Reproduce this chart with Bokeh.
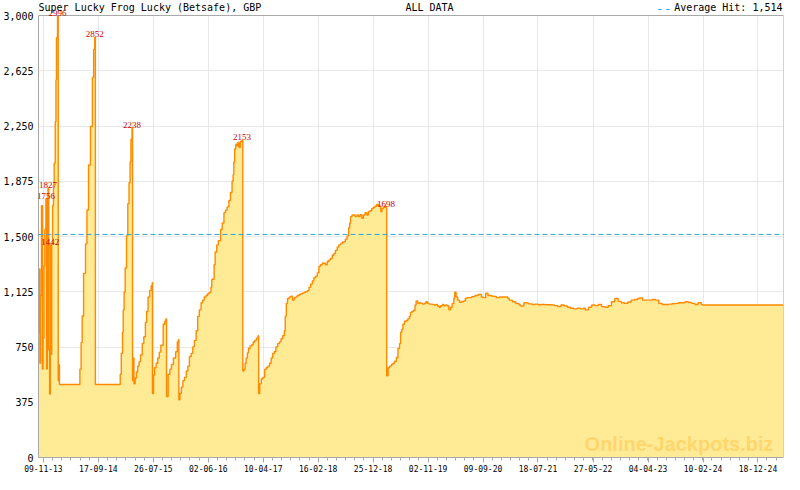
import pandas as pd
from bokeh.plotting import figure
from bokeh.models import (ColumnDataSource, Range1d, FixedTicker, DatetimeTickFormatter,
                          NumeralTickFormatter, Span, Label, LabelSet)
from bokeh.embed import file_html
from bokeh.resources import INLINE

# jackpot value (GBP), step data
dates = [
    "2013-10-12", "2013-10-16", "2013-10-20", "2013-10-23", "2013-10-29", "2013-11-03", "2013-11-07",
    "2013-11-12", "2013-11-17", "2013-11-23", "2013-11-27", "2013-12-01", "2013-12-05", "2013-12-09",
    "2013-12-14", "2013-12-18", "2013-12-22", "2013-12-26", "2013-12-31",
    "2014-01-05", "2014-01-09", "2014-01-15", "2014-01-19", "2014-01-22", "2014-01-28", "2014-02-01",
    "2014-02-04", "2014-02-08", "2014-06-04", "2014-06-11", "2014-06-17", "2014-06-25", "2014-07-06",
    "2014-07-14", "2014-07-23", "2014-08-03", "2014-08-14", "2014-08-21", "2014-08-27", "2014-08-31",
    "2015-01-19", "2015-01-25", "2015-02-01", "2015-02-05", "2015-02-10", "2015-02-16", "2015-02-24",
    "2015-03-03", "2015-03-10", "2015-03-16", "2015-03-21", "2015-03-27", "2015-03-30", "2015-04-02",
    "2015-04-07", "2015-04-14", "2015-04-21", "2015-04-28", "2015-05-06", "2015-05-14", "2015-05-24",
    "2015-06-02", "2015-06-11", "2015-06-18", "2015-06-26", "2015-07-05", "2015-07-14", "2015-07-20",
    "2015-07-21", "2015-07-27", "2015-08-02", "2015-08-11", "2015-08-20", "2015-08-29", "2015-09-07",
    "2015-09-20", "2015-09-29", "2015-10-05", "2015-10-09", "2015-10-18", "2015-10-28", "2015-11-06",
    "2015-11-17", "2015-11-30", "2015-12-09", "2015-12-15", "2015-12-18", "2015-12-24",
    "2016-01-01", "2016-01-10", "2016-01-19", "2016-01-29", "2016-02-07", "2016-02-16", "2016-02-26",
    "2016-03-06", "2016-03-15", "2016-03-25", "2016-04-03", "2016-04-12", "2016-04-22", "2016-05-01",
    "2016-05-10", "2016-05-20", "2016-05-29", "2016-06-07", "2016-06-17", "2016-06-22", "2016-07-05",
    "2016-07-11", "2016-07-20", "2016-07-29", "2016-08-11", "2016-08-20", "2016-08-30", "2016-09-08",
    "2016-09-17", "2016-09-27", "2016-10-06", "2016-10-15", "2016-10-21", "2016-10-25", "2016-10-30",
    "2016-11-05", "2016-11-12", "2016-11-17", "2016-11-23", "2016-12-01", "2016-12-10", "2016-12-15",
    "2016-12-21", "2016-12-28",
    "2017-01-03", "2017-01-10", "2017-01-16", "2017-01-25", "2017-02-03", "2017-02-12", "2017-02-21",
    "2017-03-02", "2017-03-12", "2017-03-15", "2017-03-21", "2017-03-30", "2017-04-08", "2017-04-18",
    "2017-04-27", "2017-05-06", "2017-05-16", "2017-05-25", "2017-06-03", "2017-06-13", "2017-06-21",
    "2017-07-01", "2017-07-11", "2017-07-20", "2017-07-29", "2017-08-08", "2017-08-13", "2017-08-19",
    "2017-08-26", "2017-09-05", "2017-09-14", "2017-09-23", "2017-10-03", "2017-10-12", "2017-10-21",
    "2017-10-31", "2017-11-09", "2017-11-18", "2017-11-28", "2017-12-07", "2017-12-17", "2017-12-26",
    "2018-01-04", "2018-01-14", "2018-01-23", "2018-02-01", "2018-02-11", "2018-02-20", "2018-03-01",
    "2018-03-11", "2018-03-20", "2018-03-29", "2018-04-08", "2018-04-18", "2018-04-27", "2018-05-07",
    "2018-05-16", "2018-05-25", "2018-06-04", "2018-06-13", "2018-06-22", "2018-07-02", "2018-07-11",
    "2018-07-20", "2018-07-30", "2018-08-08", "2018-08-14", "2018-08-19", "2018-08-27", "2018-09-05",
    "2018-09-14", "2018-09-24", "2018-10-03", "2018-10-12", "2018-10-22", "2018-10-31", "2018-11-09",
    "2018-11-19", "2018-11-28", "2018-12-07", "2018-12-17", "2018-12-26",
    "2019-01-04", "2019-01-14", "2019-01-23", "2019-02-01", "2019-02-07", "2019-02-13", "2019-02-20",
    "2019-03-01", "2019-03-08", "2019-03-12", "2019-03-20", "2019-03-29", "2019-04-08", "2019-04-17",
    "2019-04-26", "2019-05-06", "2019-05-15", "2019-05-24", "2019-05-30", "2019-06-06", "2019-06-12",
    "2019-06-21", "2019-07-01", "2019-07-10", "2019-07-19", "2019-07-25", "2019-08-02", "2019-08-11",
    "2019-08-20", "2019-08-26", "2019-09-04", "2019-09-13", "2019-09-23", "2019-10-02", "2019-10-11",
    "2019-10-21", "2019-10-30", "2019-11-08", "2019-11-27", "2019-12-06", "2019-12-16", "2019-12-25",
    "2020-01-03", "2020-01-13", "2020-01-22", "2020-01-31", "2020-02-10", "2020-02-19", "2020-02-28",
    "2020-03-09", "2020-03-18", "2020-03-27", "2020-04-01", "2020-04-09", "2020-04-18", "2020-04-29",
    "2020-05-11", "2020-05-21", "2020-05-31", "2020-06-09", "2020-06-28", "2020-07-07", "2020-07-25",
    "2020-08-12", "2020-08-31", "2020-09-09", "2020-09-24", "2020-10-07", "2020-10-26", "2020-11-04",
    "2020-11-23", "2020-12-11", "2020-12-30",
    "2021-01-18", "2021-01-27", "2021-02-05", "2021-02-23", "2021-03-14", "2021-04-01", "2021-04-11",
    "2021-04-29", "2021-05-17", "2021-05-26", "2021-06-14", "2021-07-02", "2021-07-20", "2021-08-07",
    "2021-08-26", "2021-09-13", "2021-10-01", "2021-10-20", "2021-11-07", "2021-11-25", "2021-12-14",
    "2022-01-01", "2022-01-19", "2022-02-07", "2022-02-25", "2022-03-15", "2022-04-03", "2022-04-12",
    "2022-05-01", "2022-05-19", "2022-06-07", "2022-06-26", "2022-07-14", "2022-08-02", "2022-08-21",
    "2022-09-08", "2022-09-27", "2022-10-16", "2022-11-03", "2022-11-21", "2022-12-10", "2022-12-29",
    "2023-01-16", "2023-02-04", "2023-02-13", "2023-03-04", "2023-03-22", "2023-04-10", "2023-04-29",
    "2023-05-17", "2023-06-04", "2023-06-23", "2023-07-12", "2023-07-30", "2023-08-18", "2023-09-05",
    "2023-09-23", "2023-10-12", "2023-10-31", "2023-11-18", "2023-12-07", "2023-12-26",
    "2024-01-13", "2024-02-01", "2024-02-05", "2025-05-12",
]
jackpot = [
    850, 1280, 640, 1100, 1710, 600, 810,
    1300, 1550, 1756, 600, 970, 1827, 730,
    430, 1442, 700, 1450, 1711,
    1850, 1997, 2279, 2563, 2849, 2996, 520,
    630, 495, 600, 780, 960, 1250, 1450,
    1680, 1985, 2247, 2580, 2770, 2852, 495,
    565, 707, 850, 1002, 1122, 1286, 1504,
    1723, 1865, 2006, 2160, 2238, 524, 675,
    500, 540, 580, 620, 650, 696, 773,
    820, 917, 991, 1089, 1133, 1166, 1188,
    434, 560, 609, 640, 675, 715, 762,
    904, 925, 940, 413, 565, 600, 631,
    675, 718, 784, 800, 391, 434,
    478, 522, 544, 587, 620, 686, 707,
    751, 795, 860, 958, 1002, 1050, 1068,
    1089, 1100, 1111, 1120, 1155, 1210, 1308,
    1395, 1443, 1472, 1548, 1592, 1662, 1679,
    1701, 1744, 1799, 1875, 1919, 2006, 2094,
    2127, 2116, 2138, 2105, 2145, 2153, 587,
    598, 640,
    675, 710, 740, 758, 765, 784, 795,
    810, 827, 434, 500, 533, 544, 598,
    610, 620, 640, 675, 707, 720, 751,
    773, 785, 806, 827, 860, 958, 1046,
    1079, 1089, 1095, 1068, 1085, 1090, 1100,
    1106, 1111, 1116, 1122, 1127, 1133, 1155,
    1177, 1199, 1220, 1231, 1253, 1297, 1308,
    1319, 1319, 1308, 1330, 1340, 1351, 1373,
    1384, 1406, 1428, 1443, 1450, 1461, 1465,
    1482, 1504, 1559, 1592, 1635, 1646, 1646,
    1635, 1646, 1635, 1648, 1624, 1646, 1662,
    1646, 1668, 1675, 1690, 1697,
    1705, 1718, 1705, 1705, 1668, 1690, 1696,
    1705, 1698, 555, 609, 620, 631, 640,
    653, 679, 740, 773, 850, 871, 904,
    925, 930, 941, 958, 985, 991, 1000,
    1035, 1063, 1046, 1050, 1046, 1041, 1045,
    1057, 1046, 1041, 1039, 1035, 1039, 1028,
    1020, 1031, 1039, 1030, 1035, 1030, 1002,
    1020, 1046, 1079, 1122, 1089, 1068, 1054,
    1057, 1063, 1079, 1085, 1085, 1092, 1100,
    1107, 1090, 1085, 1116, 1100, 1096, 1094,
    1085, 1089, 1089,
    1089, 1080, 1068, 1057, 1046, 1035, 1028,
    1050, 1048, 1043, 1039, 1041, 1037, 1039,
    1037, 1037, 1035, 1031, 1024, 1035, 1028,
    1020, 1013, 1009, 1013, 1009, 1013, 1002,
    1020, 1035, 1031, 1039, 1024, 1020, 1031,
    1057, 1079, 1060, 1050, 1046, 1055, 1068,
    1072, 1079, 1083, 1068, 1068, 1068, 1072,
    1068, 1046, 1039, 1039, 1041, 1044, 1046,
    1050, 1050, 1057, 1052, 1046, 1039,
    1050, 1039, 1035, 1035,
]

# jackpot hits marked in red
hit_dates = ["2013-11-23", "2013-12-05", "2013-12-18", "2014-01-28",
             "2014-08-27", "2015-03-27", "2016-12-10", "2019-03-08"]
hit_values = [1756, 1827, 1442, 2996, 2852, 2238, 2153, 1698]

average_hit = 1514
x_tick_labels = ["09-11-13", "17-09-14", "26-07-15", "02-06-16", "10-04-17", "16-02-18", "25-12-18",
                 "02-11-19", "09-09-20", "18-07-21", "27-05-22", "04-04-23", "10-02-24", "18-12-24"]
y_ticks = [0, 375, 750, 1125, 1500, 1875, 2250, 2625, 3000]

mono = "DejaVu Sans Mono"
border = "#a8a8a8"
avg_color = "#2ea6de"

x = pd.to_datetime(dates)
src = ColumnDataSource(dict(x=x, y=jackpot))

ticks = pd.to_datetime(x_tick_labels, format="%d-%m-%y")
tick_ms = [t.timestamp() * 1000 for t in ticks]
step = (tick_ms[1] - tick_ms[0]) / 6
minor_ms = [tick_ms[0] + i * step for i in range(-1, 6 * len(tick_ms) + 5)]

x0 = x[0].timestamp() * 1000
x1 = x[-1].timestamp() * 1000
y_top = 3000
y_head = 3102   # room above the frame for the header line

p = figure(width=784, height=474, x_axis_type="datetime", output_backend="svg",
           toolbar_location=None, x_range=Range1d(x0, x1), y_range=Range1d(0, y_head),
           min_border_left=0, min_border_right=1, min_border_top=0, min_border_bottom=0)
p.background_fill_color = "white"
p.outline_line_color = None

p.varea_step(x="x", y1=0, y2="y", step_mode="after", source=src, fill_color="#ffea96")
p.step(x="x", y="y", mode="after", source=src, line_color="#ff8a00", line_width=1.4)

# blank header strip above 3,000 and the frame border
p.quad(left=x0, right=x1, bottom=y_top, top=y_head, fill_color="white", line_color=None)
p.segment(x0=[x0, x1], y0=[y_top, 0], x1=[x1, x1], y1=[y_top, y_top],
          line_color=border, line_width=1)

p.add_layout(Span(location=average_hit, dimension="width", line_color=avg_color,
                  line_dash="5 3", line_width=1))

# axes
p.xaxis.ticker = FixedTicker(ticks=tick_ms, minor_ticks=minor_ms)
p.xaxis.formatter = DatetimeTickFormatter(days="%d-%m-%y", months="%d-%m-%y", years="%d-%m-%y")
p.xaxis.major_label_text_font = mono
p.xaxis.major_label_text_font_size = "8px"
p.xaxis.major_tick_out = 5
p.xaxis.major_tick_in = 0
p.xaxis.minor_tick_out = 3
p.xaxis.minor_tick_in = 0
p.xaxis.major_label_standoff = 2

p.yaxis.ticker = FixedTicker(ticks=y_ticks)
p.yaxis.formatter = NumeralTickFormatter(format="0,0")
p.yaxis.bounds = (0, y_top)
p.yaxis.major_label_text_font = mono
p.yaxis.major_label_text_font_size = "10px"
p.yaxis.major_tick_out = 0
p.yaxis.major_tick_in = 0
p.yaxis.major_label_standoff = 5

for ax in (p.xaxis, p.yaxis):
    ax.axis_line_color = border
    ax.major_tick_line_color = border
    ax.minor_tick_line_color = border
    ax.major_label_text_color = "black"
p.yaxis.minor_tick_line_color = None

p.xgrid.ticker = FixedTicker(ticks=tick_ms)
p.ygrid.ticker = FixedTicker(ticks=y_ticks)
p.grid.grid_line_color = "#e8e8e8"

# hit labels
hits = ColumnDataSource(dict(x=pd.to_datetime(hit_dates), y=hit_values,
                             t=[str(v) for v in hit_values]))
p.add_layout(LabelSet(x="x", y="y", text="t", source=hits, text_align="center",
                      text_baseline="bottom", y_offset=0, text_color="#cc0000",
                      text_font=mono, text_font_size="9px"))

# header line
p.add_layout(Label(x=x0, y=y_top, y_offset=3, text="Super Lucky Frog Lucky (Betsafe), GBP",
                   text_font=mono, text_font_size="10px", text_baseline="bottom",
                   text_color="black"))
p.add_layout(Label(x=pd.Timestamp("2019-11-10").timestamp() * 1000, y=y_top, y_offset=3,
                   text="ALL DATA", text_font=mono, text_font_size="10px",
                   text_baseline="bottom", text_align="center", text_color="black"))
p.add_layout(Label(x=x1, y=y_top, y_offset=3, x_offset=-1, text="Average Hit: 1,514",
                   text_font=mono, text_font_size="10px", text_baseline="bottom",
                   text_align="right", text_color="black"))
p.add_layout(Label(x=x1, y=y_top, y_offset=3, x_offset=-112, text="--", text_font=mono,
                   text_font_size="13px", text_baseline="bottom", text_align="right",
                   text_color=avg_color))

# watermark
p.add_layout(Label(x=x1, y=0, x_offset=-10, y_offset=3, text="Online-Jackpots.biz",
                   text_font="Liberation Sans", text_font_style="bold", text_font_size="20px",
                   text_align="right", text_baseline="bottom", text_color="#ffa500",
                   text_alpha=0.3))

open("out.html", "w").write(file_html(p, INLINE))
